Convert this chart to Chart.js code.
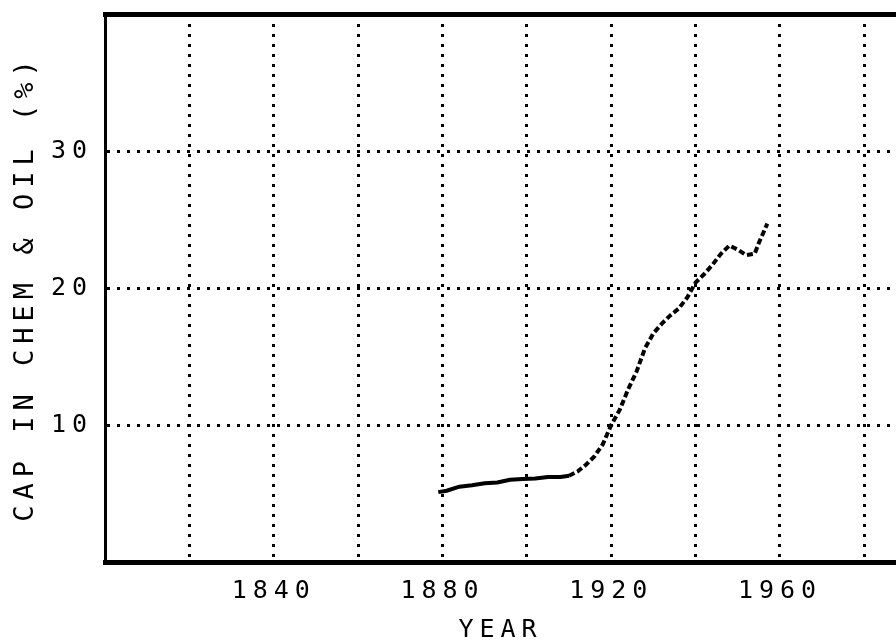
<!DOCTYPE html>
<html>
<head>
<meta charset="utf-8">
<script src="https://cdn.jsdelivr.net/npm/chart.js@4"></script>
<style>
  html, body { margin: 0; padding: 0; background: #ffffff; overflow: hidden; }
  #wrap { width: 896px; height: 643px; }
</style>
</head>
<body>
<div id="wrap"><canvas id="c" width="896" height="643"></canvas></div>
<script>
// ---- data ----
const years = [1879, 1881, 1884, 1887, 1890, 1893, 1896, 1899, 1902, 1905, 1908, 1910,
               1912, 1914, 1916, 1918, 1920, 1922, 1924, 1926, 1928, 1930, 1932, 1934,
               1936, 1938, 1940, 1942, 1944, 1946, 1948, 1950, 1952, 1954, 1955, 1957];
const capShare = [5.1, 5.2, 5.5, 5.6, 5.75, 5.8, 6.0, 6.05, 6.1, 6.2, 6.2, 6.3,
                  6.6, 7.1, 7.7, 8.6, 10.0, 11.1, 12.6, 13.9, 15.6, 16.7, 17.4, 18.0,
                  18.5, 19.3, 20.4, 21.0, 21.7, 22.5, 23.1, 22.8, 22.4, 22.5, 23.3, 24.7];
const xGridYears = [1820, 1840, 1860, 1880, 1900, 1920, 1940, 1960, 1980];
const xLabelYears = [1840, 1880, 1920, 1960];
const yGridValues = [0, 10, 20, 30, 40];
const yLabelValues = [10, 20, 30];
const xTitle = 'YEAR';
const yTitle = 'CAP IN CHEM & OIL (%)';

const FONT = "'DejaVu Sans Mono', monospace";
const SPACING = '6px';

const spacingPlugin = {
  id: 'spacing',
  beforeLayout(chart) { chart.ctx.letterSpacing = SPACING; },
  beforeDraw(chart) { chart.ctx.letterSpacing = SPACING; }
};
const bgPlugin = {
  id: 'bg',
  beforeDraw(chart) {
    const ctx = chart.ctx;
    ctx.save();
    ctx.fillStyle = '#ffffff';
    ctx.fillRect(0, 0, chart.width, chart.height);
    ctx.restore();
  }
};

const points = years.map((y, i) => ({ x: y, y: capShare[i] }));

new Chart(document.getElementById('c'), {
  type: 'line',
  data: {
    datasets: [{
      data: points,
      borderColor: '#000000',
      borderWidth: 4,
      pointRadius: 0,
      tension: 0,
      segment: {
        borderDash: ctx => (ctx.p0.parsed.x >= 1910 ? [6, 3] : undefined)
      }
    }]
  },
  options: {
    responsive: false,
    animation: false,
    devicePixelRatio: 1,
    layout: { padding: 0 },
    plugins: { legend: { display: false }, tooltip: { enabled: false } },
    scales: {
      x: {
        type: 'linear',
        position: 'bottom',
        min: 1800,
        max: 1987.5,
        afterFit(s) { s.height = 81; s.paddingLeft = 0; s.paddingRight = 0; },
        afterBuildTicks(s) { s.ticks = xGridYears.map(v => ({ value: v })); },
        ticks: {
          autoSkip: false,
          maxRotation: 0,
          padding: 14,
          color: '#000000',
          font: { family: FONT, size: 25 },
          callback: v => (xLabelYears.includes(v) ? String(v) : '')
        },
        grid: {
          drawTicks: false,
          color: '#000000',
          lineWidth: 3,
        },
        border: { display: true, color: '#000000', width: 5, dash: [3, 7] },
        title: {
          display: true,
          text: xTitle,
          color: '#000000',
          font: { family: FONT, size: 25, lineHeight: 1 },
          padding: { top: 0, bottom: 0 }
        }
      },
      xTop: {
        type: 'linear',
        position: 'top',
        min: 1800,
        max: 1987.5,
        afterFit(s) { s.height = 14; s.paddingLeft = 0; s.paddingRight = 0; },
        ticks: { display: false },
        grid: { display: false, drawTicks: false },
        border: { display: true, color: '#000000', width: 5 }
      },
      y: {
        type: 'linear',
        position: 'left',
        min: 0,
        max: 40,
        afterFit(s) { s.width = 105; s.paddingTop = 0; s.paddingBottom = 0; },
        afterBuildTicks(s) { s.ticks = yGridValues.map(v => ({ value: v })); },
        ticks: {
          padding: 12,
          color: '#000000',
          font: { family: FONT, size: 25 },
          callback: v => (yLabelValues.includes(v) ? String(v) : '')
        },
        grid: {
          drawTicks: false,
          color: '#000000',
          lineWidth: 3
        },
        border: { display: true, color: '#000000', width: 3, dash: [3, 7] },
        title: {
          display: true,
          text: yTitle,
          color: '#000000',
          font: { family: FONT, size: 27, lineHeight: 1 },
          padding: { top: 12, bottom: 0 }
        }
      }
    }
  },
  plugins: [bgPlugin, spacingPlugin]
});
</script>
</body>
</html>
